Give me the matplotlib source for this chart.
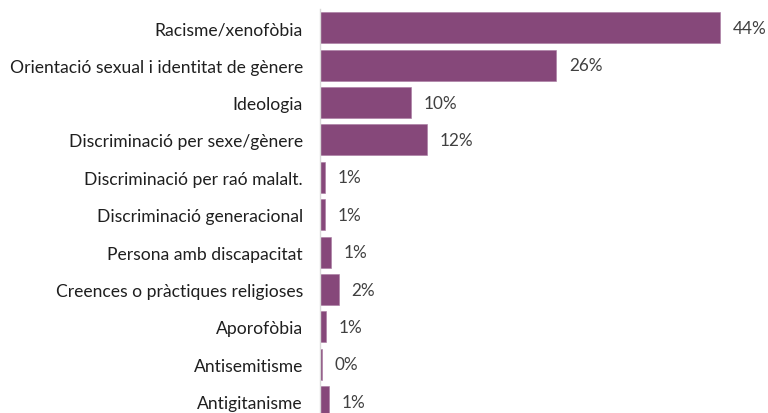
import matplotlib
matplotlib.use("Agg")
import matplotlib.pyplot as plt

categories = [
    "Racisme/xenofòbia",
    "Orientació sexual i identitat de gènere",
    "Ideologia",
    "Discriminació per sexe/gènere",
    "Discriminació per raó malalt.",
    "Discriminació generacional",
    "Persona amb discapacitat",
    "Creences o pràctiques religioses",
    "Aporofòbia",
    "Antisemitisme",
    "Antigitanisme",
]
values = [44.0, 26.0, 10.0, 11.8, 0.55, 0.55, 1.27, 2.1, 0.66, 0.29, 1.02]

bar_color = "#86487A"
text_color = "#404040"

fig = plt.figure(figsize=(7.68, 4.14), dpi=100)
ax = fig.add_axes([0.4163, -0.018, 0.5688, 0.9938])

y = list(range(len(categories)))
ax.barh(y, values, height=0.83, color=bar_color, edgecolor="#A878A0", linewidth=0.4)
ax.set_ylim(len(categories) - 0.5, -0.5)
ax.set_xlim(0, 48)

ax.set_yticks(y)
ax.set_yticklabels(categories, fontsize=12.6, color="#1f1f1f", family="Lato")
ax.tick_params(axis="y", length=0, pad=12)
ax.set_xticks([])

for s in ["top", "right", "bottom"]:
    ax.spines[s].set_visible(False)
ax.spines["left"].set_color("#D9D9D9")
ax.spines["left"].set_linewidth(1.0)

for yi, v in zip(y, values):
    ax.annotate(f"{v:.0f}%", xy=(v, yi), xytext=(9, 0), textcoords="offset points",
                va="center", ha="left", fontsize=12.3, color=text_color, family="Lato")

fig.savefig("out.png", dpi=100)
